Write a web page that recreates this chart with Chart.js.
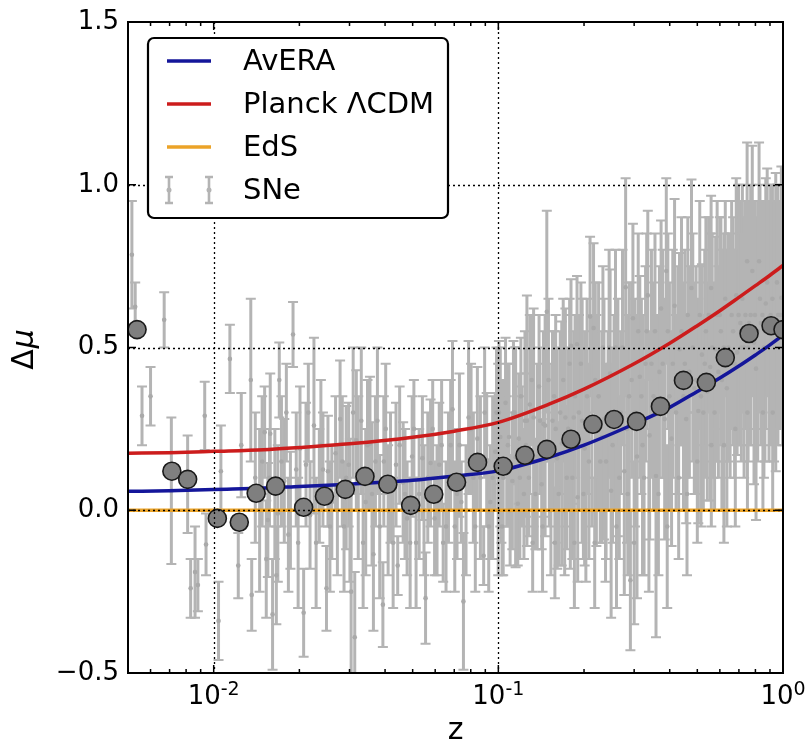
<!DOCTYPE html>
<html>
<head>
<meta charset="utf-8">
<script src="https://cdn.jsdelivr.net/npm/chart.js@4.4.1/dist/chart.umd.min.js"></script>
<style>
  html, body { margin: 0; padding: 0; background: #fff; }
  canvas { display: block; }
</style>
</head>
<body>
<canvas id="deltaMu" width="812" height="745"></canvas>
<script>
// supernova residuals (z, delta mu, 1-sigma error)
const snZ = [
  0.00516, 0.0053, 0.0056, 0.006, 0.0067, 0.0071, 0.0081, 0.0083, 0.0086, 0.0088, 0.0093, 0.0094,
  0.0104, 0.0106, 0.0114, 0.0122, 0.0125, 0.0135, 0.0136, 0.014, 0.0145, 0.0151,
  0.0155, 0.0158, 0.0161, 0.0168, 0.017, 0.0177, 0.0183, 0.019, 0.0195, 0.0201,
  0.0207, 0.0211, 0.0218, 0.0225, 0.0235, 0.0242, 0.0249, 0.0252, 0.026,
  0.0268, 0.0278, 0.0287, 0.0298, 0.0304, 0.0313, 0.0317, 0.033, 0.0342, 0.0354,
  0.0364, 0.0376, 0.0393, 0.0396, 0.041, 0.0437, 0.0443, 0.0463, 0.0478, 0.0498,
  0.0514, 0.0541, 0.0555, 0.0578, 0.0597, 0.062, 0.064, 0.0668, 0.069, 0.0716,
  0.0741, 0.0754, 0.0786, 0.0817, 0.0844, 0.0888, 0.091, 0.0937, 0.0975,
  0.0999, 0.1016, 0.104, 0.107, 0.109, 0.112, 0.115, 0.118, 0.121, 0.124,
  0.126, 0.129, 0.133, 0.137, 0.140, 0.144, 0.146, 0.148, 0.151, 0.155,
  0.159, 0.161, 0.165, 0.167, 0.172, 0.176, 0.179, 0.180, 0.184, 0.189,
  0.190, 0.192, 0.197, 0.201, 0.210, 0.213, 0.216, 0.221, 0.225, 0.231,
  0.235, 0.243, 0.247, 0.249, 0.255, 0.263, 0.269, 0.277, 0.280, 0.288,
  0.291, 0.297, 0.307, 0.314, 0.321, 0.329, 0.335, 0.340, 0.351, 0.358,
  0.368, 0.373, 0.384, 0.389, 0.399, 0.406, 0.416, 0.427, 0.433, 0.447,
  0.457, 0.469, 0.477, 0.488, 0.504, 0.515, 0.519, 0.531, 0.542, 0.555,
  0.559, 0.57, 0.58, 0.593, 0.6, 0.61, 0.635, 0.652, 0.668, 0.685,
  0.69, 0.708, 0.72, 0.73, 0.748, 0.76, 0.78, 0.791, 0.804, 0.824,
  0.836, 0.857, 0.87, 0.893, 0.918, 0.943, 0.96, 0.987, 0.997,
  0.0148, 0.0153, 0.0157, 0.0164, 0.0166, 0.0173, 0.018, 0.0186, 0.0198, 0.0215,
  0.0229, 0.0238, 0.0256, 0.0272, 0.0283, 0.0292, 0.0301, 0.0309, 0.0322, 0.0335,
  0.0347, 0.036, 0.037, 0.0383, 0.0402, 0.0418, 0.0427, 0.045, 0.047, 0.049,
  0.0505, 0.0527, 0.0548, 0.0565, 0.0588, 0.0609, 0.0632, 0.0655, 0.068, 0.0703,
  0.073, 0.077, 0.0802, 0.083, 0.0865, 0.0895, 0.0925, 0.0955, 0.0985,
  0.1005, 0.103, 0.106, 0.11, 0.113, 0.117, 0.12, 0.123, 0.128, 0.131,
  0.135, 0.139, 0.142, 0.150, 0.153, 0.157, 0.163, 0.169, 0.174, 0.178,
  0.182, 0.186, 0.195, 0.199, 0.205, 0.208, 0.219, 0.228, 0.233, 0.239,
  0.245, 0.252, 0.258, 0.266, 0.273, 0.283, 0.294, 0.302, 0.310, 0.318,
  0.325, 0.332, 0.345, 0.355, 0.362, 0.378, 0.394, 0.41, 0.421, 0.44,
  0.452, 0.463, 0.482, 0.495, 0.51, 0.525, 0.536, 0.548, 0.564, 0.575,
  0.587, 0.605, 0.62, 0.627, 0.643, 0.66, 0.676, 0.698, 0.714, 0.738,
  0.754, 0.77, 0.797, 0.815, 0.83, 0.847, 0.864, 0.88, 0.905, 0.93,
  0.952, 0.975,
  0.132, 0.143, 0.158, 0.171, 0.185, 0.203, 0.218, 0.238, 0.26, 0.285,
  0.3, 0.338, 0.365, 0.392, 0.43, 0.46, 0.5, 0.56, 0.62, 0.68,
  0.75, 0.85, 0.92, 0.1025, 0.108, 0.114, 0.119, 0.125
];
const snMu = [
  0.785, 0.625, 0.29, 0.35, 0.585, 0.06, 0.08, -0.24, -0.19, -0.23, 0.29, -0.105,
  -0.34, 0.12, 0.465, -0.17, 0.2, 0.40, -0.26, 0.1, 0, 0.24,
  -0.03, 0.235, -0.32, -0.01, 0.40, 0.09, -0.075, 0.54, 0.125, 0.19,
  -0.315, 0.14, -0.015, 0.26, 0.075, 0.125, -0.24, 0.12, 0.025,
  0.175, 0.28, -0.05, 0.14, -0.25, -0.39, 0.215, 0.275, 0.025, 0.205,
  -0.135, 0.275, -0.29, 0.15, 0, 0.14, -0.17, 0.085, -0.025, 0.165,
  -0.1, 0.16, -0.27, 0.145, -0.025, 0.14, -0.1, 0.1, 0.31, 0.05,
  0.025, -0.28, 0.285, 0.1, 0.22, -0.14, 0.155, 0.025, 0.18,
  0.125, 0.225, 0.1, 0.15, 0.225, 0.09, 0.163, 0.22, 0.165, 0.275,
  0.275, 0.325, 0.285, 0.165, 0.275, 0.265, 0.26, 0.61, 0.2, 0.275,
  0.25, 0.16, 0.3, 0.205, 0.285, 0.25, 0.21, 0.505, 0.285, 0.51,
  0.04, 0.3, 0.275, 0.19, 0.595, 0.275, 0.56, 0.245, 0.35, 0.225,
  0.28, 0.275, 0.42, 0.06, 0.3, 0.285, 0.3, 0.12, 0.685, 0.35,
  -0.215, 0.59, 0.165, 0.41, 0.2, 0.45, 0.66, 0.23, 0.35, 0.105,
  0.425, 0.62, 0.28, 0.735, 0.35, 0.22, 0.628, 0.4, 0.495, 0.35,
  0.28, 0.425, 0.683, 0.375, 0.305, 0.35, 0.478, 0.45, 0.365, 0.44,
  0.683, 0.4, 0.495, 0.425, 0.6, 0.4, 0.375, 0.475, 0.55, 0.66,
  0.485, 0.575, 0.65, 0.5, 0.765, 0.575, 0.735, 0.515, 0.435, 0.765,
  0.575, 0.5, 0.635, 0.55, 0.65, 0.578, 0.6, 0.653, 0.6,
  0.15, -0.15, 0.1, 0.05, -0.2, 0.15, 0.3, 0.0, -0.1, 0.3,
  -0.1, 0.2, -0.05, 0.0, 0.15, 0.1, 0.0, 0.3, 0.1, -0.1,
  0.2, 0.05, 0.15, -0.05, 0.25, 0.1, -0.1, 0.2, 0.05, -0.1,
  0.25, 0.05, 0.0, 0.1, 0.25, 0.0, 0.2, -0.05, 0.2, -0.05,
  0.2, 0.0, 0.25, -0.05, 0.1, 0.3, -0.05, 0.1, 0.3,
  0.3, -0.05, 0.33, 0.0, 0.3, 0.02, 0.35, 0.05, 0.1, 0.4,
  0.05, 0.38, 0.08, 0.4, 0.0, 0.35, 0.05, 0.4, 0.1, 0.45,
  0.1, 0.35, 0.45, 0.05, 0.35, 0.15, 0.4, 0.15, 0.5, 0.15,
  0.5, 0.2, 0.5, 0.1, 0.5, 0.25, 0.4, 0.3, 0.55, 0.35,
  0.1, 0.55, 0.45, 0.55, 0.3, 0.45, 0.55, 0.45, 0.3, 0.55,
  0.45, 0.6, 0.5, 0.4, 0.6, 0.3, 0.55, 0.6, 0.5, 0.3,
  0.6, 0.55, 0.5, 0.65, 0.5, 0.6, 0.45, 0.6, 0.5, 0.6,
  0.5, 0.6, 0.6, 0.55, 0.65, 0.6, 0.55, 0.7, 0.6, 0.55,
  0.7, 0.6,
  -0.1, -0.05, -0.1, 0.0, -0.1, 0.0, -0.1, 0.0, -0.05, 0.05,
  -0.1, 0.0, 0.05, -0.05, 0.1, 0.05, 0.15, 0.2, 0.2, 0.25,
  0.3, 0.3, 0.3, 0.15, 0.2, 0.3, 0.1, 0.2
];
const snErr = [
  0.165, 0.075, 0.09, 0.09, 0.085, 0.225, 0.15, 0.09, 0.14, 0.08, 0.105, 0.095,
  0.12, 0.14, 0.105, 0.10, 0.16, 0.25, 0.11, 0.2, 0.25, 0.14,
  0.175, 0.185, 0.17, 0.21, 0.115, 0.19, 0.175, 0.1, 0.175, 0.19,
  0.135, 0.19, 0.165, 0.27, 0.175, 0.175, 0.13, 0.17, 0.175,
  0.175, 0.18, 0.2, 0.19, 0.3, 0.2, 0.215, 0.225, 0.225, 0.205,
  0.235, 0.225, 0.13, 0.2, 0.2, 0.19, 0.09, 0.185, 0.175, 0.185,
  0.2, 0.19, 0.14, 0.195, 0.175, 0.19, 0.12, 0.2, 0.21, 0.2,
  0.125, 0.21, 0.235, 0.2, 0.22, 0.09, 0.205, 0.175, 0.18,
  0.325, 0.275, 0.3, 0.2, 0.225, 0.21, 0.338, 0.2, 0.215, 0.275,
  0.385, 0.275, 0.335, 0.285, 0.225, 0.285, 0.34, 0.31, 0.25, 0.275,
  0.35, 0.34, 0.25, 0.375, 0.335, 0.25, 0.39, 0.205, 0.265, 0.21,
  0.26, 0.3, 0.375, 0.36, 0.245, 0.325, 0.26, 0.355, 0.35, 0.325,
  0.37, 0.275, 0.32, 0.39, 0.3, 0.365, 0.25, 0.38, 0.335, 0.35,
  0.215, 0.29, 0.435, 0.31, 0.4, 0.3, 0.26, 0.32, 0.35, 0.495,
  0.325, 0.27, 0.37, 0.285, 0.35, 0.33, 0.328, 0.35, 0.295, 0.35,
  0.32, 0.325, 0.333, 0.325, 0.345, 0.4, 0.278, 0.35, 0.335, 0.41,
  0.283, 0.3, 0.345, 0.325, 0.3, 0.4, 0.425, 0.375, 0.35, 0.36,
  0.315, 0.375, 0.35, 0.4, 0.365, 0.375, 0.385, 0.435, 0.465, 0.365,
  0.375, 0.4, 0.385, 0.4, 0.35, 0.458, 0.4, 0.403, 0.4,
  0.2, 0.18, 0.15, 0.2, 0.15, 0.2, 0.15, 0.18, 0.2, 0.15,
  0.2, 0.2, 0.2, 0.2, 0.2, 0.22, 0.22, 0.2, 0.25, 0.2,
  0.2, 0.22, 0.2, 0.22, 0.2, 0.2, 0.2, 0.18, 0.2, 0.2,
  0.15, 0.2, 0.2, 0.2, 0.15, 0.2, 0.2, 0.2, 0.2, 0.2,
  0.22, 0.2, 0.2, 0.2, 0.25, 0.2, 0.2, 0.25, 0.2,
  0.22, 0.15, 0.2, 0.17, 0.22, 0.19, 0.18, 0.2, 0.18, 0.2,
  0.17, 0.22, 0.2, 0.25, 0.2, 0.2, 0.22, 0.25, 0.22, 0.2,
  0.25, 0.25, 0.25, 0.2, 0.3, 0.3, 0.3, 0.25, 0.25, 0.3,
  0.3, 0.3, 0.3, 0.25, 0.3, 0.35, 0.3, 0.35, 0.3, 0.3,
  0.3, 0.3, 0.35, 0.3, 0.3, 0.35, 0.3, 0.35, 0.3, 0.35,
  0.35, 0.3, 0.35, 0.35, 0.35, 0.3, 0.35, 0.3, 0.35, 0.3,
  0.35, 0.35, 0.35, 0.3, 0.35, 0.35, 0.35, 0.4, 0.35, 0.35,
  0.35, 0.4, 0.35, 0.4, 0.35, 0.35, 0.4, 0.35, 0.4, 0.4,
  0.3, 0.35,
  0.15, 0.2, 0.17, 0.2, 0.2, 0.22, 0.2, 0.22, 0.25, 0.25,
  0.25, 0.25, 0.25, 0.25, 0.25, 0.25, 0.25, 0.25, 0.3, 0.3,
  0.3, 0.3, 0.3, 0.25, 0.25, 0.2, 0.25, 0.22
];

// binned averages
const binZ = [0.00538, 0.00713, 0.0081, 0.0103, 0.0123, 0.0141, 0.0165, 0.0207, 0.0245, 0.029,
  0.034, 0.0409, 0.0492, 0.0593, 0.0713, 0.0845, 0.104, 0.124, 0.148, 0.18,
  0.215, 0.255, 0.306, 0.371, 0.447, 0.538, 0.627, 0.76, 0.908, 1.0];
const binMu = [0.555, 0.12, 0.095, -0.025, -0.037, 0.052, 0.074, 0.009, 0.043, 0.064,
  0.104, 0.08, 0.015, 0.049, 0.086, 0.147, 0.135, 0.169, 0.187, 0.218,
  0.264, 0.279, 0.273, 0.319, 0.399, 0.393, 0.469, 0.543, 0.567, 0.555];

// model curves
const modelZ = [0.005, 0.007, 0.01, 0.015, 0.02, 0.03, 0.05, 0.07, 0.1, 0.15,
  0.2, 0.3, 0.4, 0.5, 0.6, 0.7, 0.8, 0.9, 1.0];
const averaMu = [0.058, 0.060, 0.064, 0.068, 0.073, 0.080, 0.092, 0.105, 0.121, 0.162,
  0.200, 0.265, 0.316, 0.365, 0.406, 0.443, 0.477, 0.508, 0.538];
const planckMu = [0.175, 0.177, 0.181, 0.186, 0.193, 0.204, 0.224, 0.243, 0.27, 0.325,
  0.372, 0.45, 0.513, 0.567, 0.613, 0.654, 0.690, 0.722, 0.752];
const edsMu = [0, 0, 0, 0, 0, 0, 0, 0, 0, 0, 0, 0, 0, 0, 0, 0, 0, 0, 0];

const yTicks = [-0.5, 0, 0.5, 1, 1.5];
const yTickLabels = ['\u22120.5', '0.0', '0.5', '1.0', '1.5'];
const xMajor = [0.01, 0.1, 1];
const xMajorExp = ['-2', '-1', '0'];
const xMinor = [0.006, 0.007, 0.008, 0.009, 0.02, 0.03, 0.04, 0.05, 0.06, 0.07, 0.08, 0.09,
  0.2, 0.3, 0.4, 0.5, 0.6, 0.7, 0.8, 0.9];
const legendLabels = ['AvERA', 'Planck \u039BCDM', 'EdS', 'SNe'];

const FONT = 'DejaVu Sans';
const GREY = '#b4b4b4';
const BLUE = '#14169a';
const RED = '#cc1c1c';
const ORANGE = '#eba328';

const pts = (xs, ys) => xs.map((x, i) => ({ x: x, y: ys[i] }));

const decor = {
  id: 'decor',
  beforeDatasetsDraw(chart) {
    const { ctx, chartArea: a, scales: { x, y } } = chart;
    ctx.save();
    ctx.beginPath();
    ctx.rect(a.left, a.top, a.right - a.left, a.bottom - a.top);
    ctx.clip();
    ctx.strokeStyle = GREY;
    for (let i = 0; i < snZ.length; i++) {
      const px = x.getPixelForValue(snZ[i]);
      const t = y.getPixelForValue(snMu[i] + snErr[i]);
      const b = y.getPixelForValue(snMu[i] - snErr[i]);
      ctx.lineWidth = 3;
      ctx.beginPath();
      ctx.moveTo(px, t); ctx.lineTo(px, b);
      ctx.stroke();
      ctx.lineWidth = 2;
      ctx.beginPath();
      ctx.moveTo(px - 5, t); ctx.lineTo(px + 5, t);
      ctx.moveTo(px - 5, b); ctx.lineTo(px + 5, b);
      ctx.stroke();
    }
    ctx.restore();
  },
  afterDatasetsDraw(chart) {
    const { ctx, chartArea: a, scales: { x, y } } = chart;
    ctx.save();
    // dotted grid on top of the data
    ctx.strokeStyle = '#000';
    ctx.lineWidth = 1.3;
    ctx.setLineDash([2, 3]);
    yTicks.forEach(v => {
      const py = Math.round(y.getPixelForValue(v)) + 0.5;
      if (py <= a.top + 2 || py >= a.bottom - 2) return;
      ctx.beginPath(); ctx.moveTo(a.left, py); ctx.lineTo(a.right, py); ctx.stroke();
    });
    xMajor.forEach(v => {
      const px = Math.round(x.getPixelForValue(v)) + 0.5;
      if (px <= a.left + 2 || px >= a.right - 2) return;
      ctx.beginPath(); ctx.moveTo(px, a.top); ctx.lineTo(px, a.bottom); ctx.stroke();
    });
    ctx.setLineDash([]);

    // ticks pointing inward
    ctx.lineWidth = 1.5;
    ctx.beginPath();
    yTicks.forEach(v => {
      const py = y.getPixelForValue(v);
      ctx.moveTo(a.left, py); ctx.lineTo(a.left + 8, py);
      ctx.moveTo(a.right, py); ctx.lineTo(a.right - 8, py);
    });
    xMajor.forEach(v => {
      const px = x.getPixelForValue(v);
      ctx.moveTo(px, a.bottom); ctx.lineTo(px, a.bottom - 8);
      ctx.moveTo(px, a.top); ctx.lineTo(px, a.top + 8);
    });
    xMinor.forEach(v => {
      const px = x.getPixelForValue(v);
      ctx.moveTo(px, a.bottom); ctx.lineTo(px, a.bottom - 4);
      ctx.moveTo(px, a.top); ctx.lineTo(px, a.top + 4);
    });
    ctx.stroke();

    // frame
    ctx.lineWidth = 2;
    ctx.strokeRect(a.left, a.top, a.right - a.left, a.bottom - a.top);

    // tick labels
    ctx.fillStyle = '#000';
    ctx.font = '26px ' + FONT;
    ctx.textAlign = 'right';
    ctx.textBaseline = 'middle';
    yTicks.forEach((v, i) => {
      ctx.fillText(yTickLabels[i], a.left - 9, y.getPixelForValue(v));
    });
    ctx.textBaseline = 'alphabetic';
    ctx.textAlign = 'left';
    xMajor.forEach((v, i) => {
      const px = x.getPixelForValue(v);
      ctx.font = '26px ' + FONT;
      const wBase = ctx.measureText('10').width;
      ctx.font = '19px ' + FONT;
      const wExp = ctx.measureText(xMajorExp[i]).width;
      const x0 = px - (wBase + wExp) / 2;
      ctx.font = '26px ' + FONT;
      ctx.fillText('10', x0, a.bottom + 31);
      ctx.font = '19px ' + FONT;
      ctx.fillText(xMajorExp[i], x0 + wBase, a.bottom + 22);
    });

    // axis titles
    ctx.font = '30px ' + FONT;
    ctx.textAlign = 'center';
    ctx.fillText('z', (a.left + a.right) / 2, a.bottom + 66);
    ctx.save();
    ctx.translate(33, (a.top + a.bottom) / 2 + 2);
    ctx.rotate(-Math.PI / 2);
    ctx.textAlign = 'left';
    ctx.font = '30px ' + FONT;
    const wD = ctx.measureText('\u0394').width;
    ctx.font = 'italic 30px ' + FONT;
    const wM = ctx.measureText('\u03BC').width;
    const s = -(wD + wM + 1) / 2;
    ctx.font = '30px ' + FONT;
    ctx.fillText('\u0394', s, 0);
    ctx.font = 'italic 30px ' + FONT;
    ctx.fillText('\u03BC', s + wD + 1, 0);
    ctx.restore();

    // legend box
    const bx = a.left + 20, by = a.top + 16, bw = 300, bh = 180;
    ctx.beginPath();
    ctx.roundRect(bx, by, bw, bh, 6);
    ctx.fillStyle = '#fff';
    ctx.fill();
    ctx.lineWidth = 2.2;
    ctx.strokeStyle = '#000';
    ctx.stroke();
    const rowColors = [BLUE, RED, ORANGE];
    ctx.font = '29px ' + FONT;
    ctx.textAlign = 'left';
    ctx.textBaseline = 'middle';
    legendLabels.forEach((lab, i) => {
      const ry = by + 23 + i * 43;
      if (i < 3) {
        ctx.strokeStyle = rowColors[i];
        ctx.lineWidth = 3.5;
        ctx.beginPath(); ctx.moveTo(bx + 19, ry); ctx.lineTo(bx + 63, ry); ctx.stroke();
      } else {
        ctx.strokeStyle = GREY;
        ctx.fillStyle = GREY;
        [bx + 21, bx + 61].forEach(ex => {
          ctx.lineWidth = 2.6;
          ctx.beginPath();
          ctx.moveTo(ex, ry - 13); ctx.lineTo(ex, ry + 13);
          ctx.moveTo(ex - 4, ry - 13); ctx.lineTo(ex + 4, ry - 13);
          ctx.moveTo(ex - 4, ry + 13); ctx.lineTo(ex + 4, ry + 13);
          ctx.stroke();
          ctx.beginPath(); ctx.arc(ex, ry, 2.5, 0, Math.PI * 2); ctx.fill();
        });
      }
      ctx.fillStyle = '#000';
      ctx.fillText(lab, bx + 95, ry + 1);
    });
    ctx.restore();
  }
};

new Chart(document.getElementById('deltaMu').getContext('2d'), {
  data: {
    datasets: [
      {
        type: 'scatter', label: 'SNe', data: pts(snZ, snMu), order: 5,
        pointRadius: 2.3, pointBackgroundColor: '#a9a9a9', pointBorderWidth: 0
      },
      {
        type: 'line', label: 'EdS', data: pts(modelZ, edsMu), order: 4,
        borderColor: ORANGE, borderWidth: 3.5, pointRadius: 0
      },
      {
        type: 'line', label: 'AvERA', data: pts(modelZ, averaMu), order: 3,
        borderColor: BLUE, borderWidth: 3.5, pointRadius: 0, cubicInterpolationMode: 'monotone'
      },
      {
        type: 'line', label: 'Planck \u039BCDM', data: pts(modelZ, planckMu), order: 2,
        borderColor: RED, borderWidth: 3.5, pointRadius: 0, cubicInterpolationMode: 'monotone'
      },
      {
        type: 'scatter', label: 'binned', data: pts(binZ, binMu), order: 1,
        pointRadius: 9, pointBackgroundColor: '#7f7f7f', pointBorderColor: '#1a1a1a',
        pointBorderWidth: 1.6
      }
    ]
  },
  options: {
    responsive: false,
    animation: false,
    devicePixelRatio: 1,
    layout: { padding: { left: 0, right: 29, top: 22, bottom: 0 } },
    plugins: { legend: { display: false }, tooltip: { enabled: false } },
    scales: {
      x: {
        type: 'logarithmic', min: 0.005, max: 1,
        grid: { display: false }, border: { display: false },
        ticks: { display: false },
        afterFit(s) { s.height = 72; }
      },
      y: {
        type: 'linear', min: -0.5, max: 1.5,
        grid: { display: false }, border: { display: false },
        ticks: { display: false },
        afterFit(s) { s.width = 128; }
      }
    }
  },
  plugins: [decor]
});
</script>
</body>
</html>
